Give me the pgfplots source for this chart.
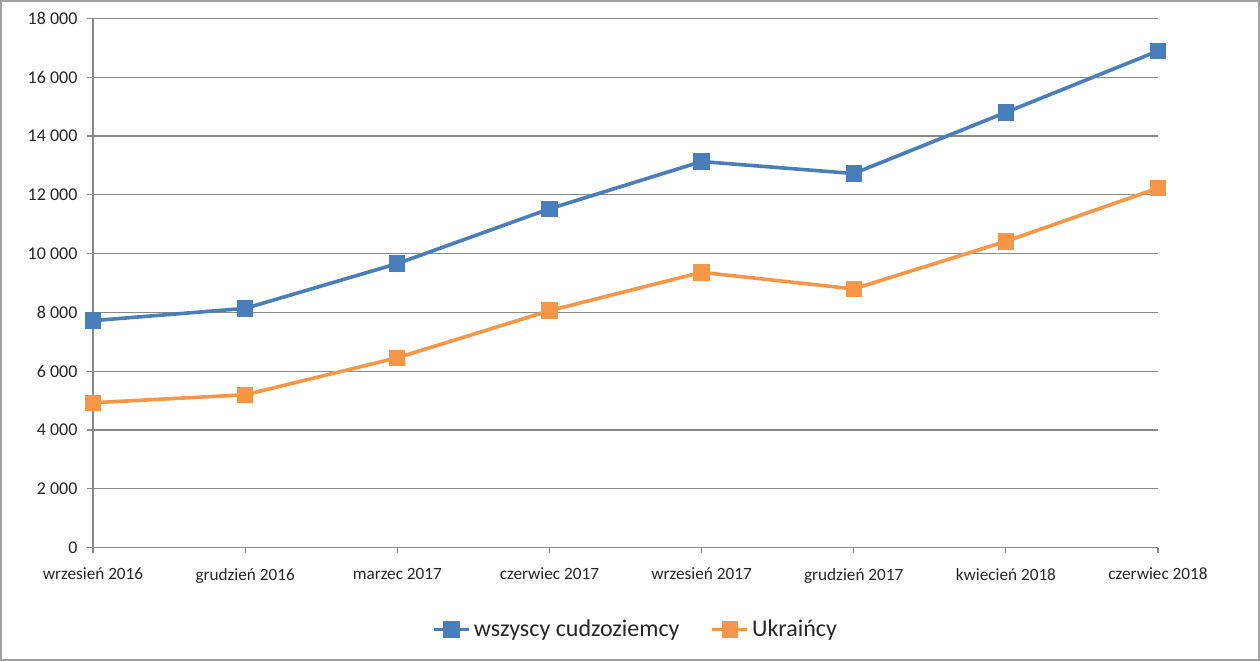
\documentclass[border=0pt]{standalone}
\usepackage{pgfplots}
\pgfplotsset{compat=1.18}
\usepackage{fontspec}
\setmainfont{Carlito}

\definecolor{serblue}{HTML}{4A7EBB}
\definecolor{serorange}{HTML}{F79646}
\definecolor{gridgray}{HTML}{898989}
\definecolor{txt}{HTML}{262626}

\begin{document}
\begin{tikzpicture}
  % frame round the whole chart, 1px = 0.5pt
  \useasboundingbox (-46.5pt,-56.75pt) rectangle (583.5pt,273.75pt);
  \draw[gridgray!80, line width=1pt] (-46pt,-56.25pt) rectangle (583pt,273.25pt);

  \begin{axis}[
    at={(0pt,0pt)}, anchor=south west,
    scale only axis,
    width=532.5pt, height=264.5pt,
    xmin=0, xmax=7,
    ymin=0, ymax=18000,
    xtick={0,...,7},
    xticklabels={wrzesień 2016, grudzień 2016, marzec 2017, czerwiec 2017,
                 wrzesień 2017, grudzień 2017, kwiecień 2018, czerwiec 2018},
    ytick={0,2000,...,18000},
    scaled y ticks=false,
    axis x line*=bottom,
    axis y line*=left,
    axis line style={gridgray, line width=0.6pt, -},
    ymajorgrids,
    major grid style={gridgray, line width=0.6pt},
    tick align=outside,
    major tick length=2.75pt,
    tick style={gridgray, line width=0.6pt},
    /pgf/number format/.cd, 1000 sep={\ }, assume math mode=true,
    /pgfplots/.cd,
    yticklabel style={font=\fontsize{9}{10}\selectfont, text=txt, xshift=-1.5pt},
    xticklabel style={font=\fontsize{8.6}{10}\selectfont, text=txt, yshift=-4pt},
    clip=false,
    every axis plot/.append style={line width=1.8pt},
    legend columns=2,
    legend style={draw=none, fill=none,
      at={(0.51,-0.155)}, anchor=center,
      font=\fontsize{12}{13}\selectfont, text=txt,
      nodes={inner xsep=1.5pt},
      /tikz/every even column/.append style={column sep=14pt}},
    legend image code/.code={
      \draw[#1, mark repeat=2, mark phase=2]
        plot coordinates {(0pt,0pt) (8.75pt,0pt) (17.5pt,0pt)};},
  ]
    \addplot[serblue, mark=square*, mark size=3.2pt, mark options={solid}]
      coordinates {
        (0, 7720) (1, 8136) (2, 9660) (3, 11524)
        (4, 13133) (5, 12725) (6, 14806) (7, 16895)
      };
    \addlegendentry{wszyscy cudzoziemcy}
    \addplot[serorange, mark=square*, mark size=3.2pt, mark options={solid}]
      coordinates {
        (0, 4925) (1, 5197) (2, 6456) (3, 8058)
        (4, 9364) (5, 8799) (6, 10418) (7, 12228)
      };
    \addlegendentry{Ukraińcy}
  \end{axis}
\end{tikzpicture}
\end{document}
